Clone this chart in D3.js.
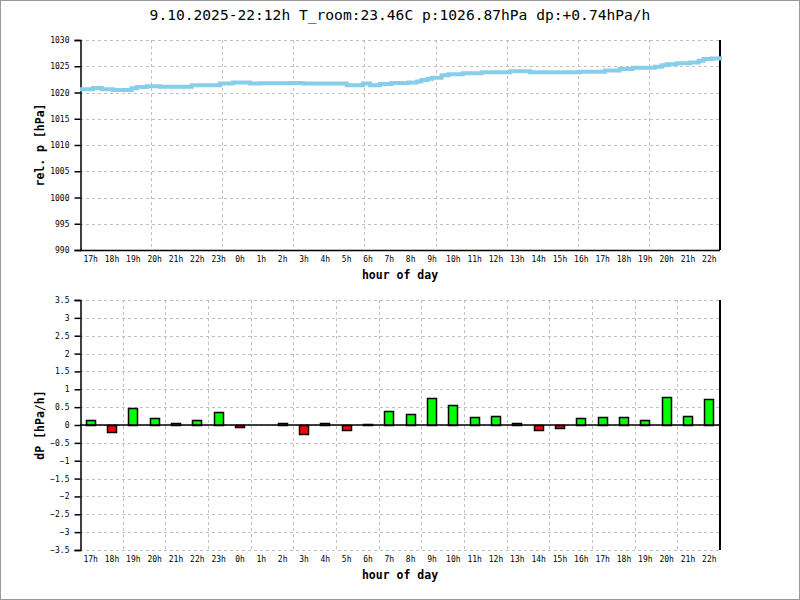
<!DOCTYPE html>
<html>
<head>
<meta charset="utf-8">
<script src="https://cdn.jsdelivr.net/npm/d3@7"></script>
<style>
  html, body { margin: 0; padding: 0; background: #fff; }
  svg { display: block; }
  text { font-family: "DejaVu Sans Mono", monospace; fill: #000; }
</style>
</head>
<body>
<svg id="chart" width="800" height="600"></svg>
<script>
// ---- data ----
const titleText = "9.10.2025-22:12h T_room:23.46C p:1026.87hPa dp:+0.74hPa/h";
const hourLabels = ["17h","18h","19h","20h","21h","22h","23h","0h","1h","2h","3h","4h","5h","6h","7h","8h","9h","10h","11h","12h","13h","14h","15h","16h","17h","18h","19h","20h","21h","22h"];
// pressure readings: hours since start of window, relative pressure (hPa)
const pTime = [0, 0.61, 1.02, 1.55, 2.42, 2.66, 3.13, 3.75, 5.24, 6.56, 7.17, 7.97, 8.44, 9.84, 10.45, 12.5, 13.27, 13.6, 14.06, 14.6, 15.4, 15.8, 16.0, 16.3, 16.5, 16.95, 17.27, 17.95, 18.83, 20.16, 21.1, 22.17, 23.44, 24.6, 25.3, 25.9, 26.56, 26.95, 27.27, 27.5, 27.97, 28.6, 29.0, 29.23, 29.6, 30];
const pValue = [1020.6, 1020.86, 1020.6, 1020.5, 1020.8, 1021.05, 1021.2, 1021.1, 1021.4, 1021.7, 1021.9, 1021.7, 1021.75, 1021.8, 1021.7, 1021.4, 1021.7, 1021.4, 1021.6, 1021.8, 1021.9, 1022.1, 1022.4, 1022.6, 1022.8, 1023.3, 1023.5, 1023.65, 1023.85, 1024.05, 1023.85, 1023.85, 1023.97, 1024.2, 1024.5, 1024.7, 1024.7, 1024.9, 1025.2, 1025.4, 1025.55, 1025.7, 1026.05, 1026.4, 1026.5, 1026.9];
// hourly pressure change (hPa/h)
const dpValue = [0.13, -0.2, 0.47, 0.19, 0.05, 0.13, 0.36, -0.06, 0, 0.05, -0.26, 0.05, -0.13, 0.03, 0.38, 0.31, 0.75, 0.55, 0.22, 0.24, 0.05, -0.13, -0.09, 0.19, 0.22, 0.22, 0.13, 0.78, 0.24, 0.72];
const pTicks = [990, 995, 1000, 1005, 1010, 1015, 1020, 1025, 1030];
const dpTicks = [-3.5, -3, -2.5, -2, -1.5, -1, -0.5, 0, 0.5, 1, 1.5, 2, 2.5, 3, 3.5];

// ---- layout ----
const svg = d3.select("#chart");
const L = 80, R = 720;
const top1 = 40, bot1 = 250;
const top2 = 300, bot2 = 550;
const gridColor = "#c0c0c0";

// page border
svg.append("rect").attr("x", 0.5).attr("y", 0.5).attr("width", 799).attr("height", 599)
  .attr("fill", "none").attr("stroke", "#999");

// title
svg.append("text").attr("x", 400).attr("y", 20).attr("text-anchor", "middle")
  .style("font-size", "14.6px").text(titleText);

const xBand = d3.scaleBand().domain(d3.range(hourLabels.length)).range([L, R])
  .paddingInner(0.53).paddingOuter(0.265);
const xTime = d3.scaleLinear().domain([0, 30]).range([L, R]);

function drawFrame(g, y, ticks, top, bot, nVGrid, fmt) {
  const vgrid = d3.scaleLinear().domain([0, nVGrid]).range([L, R]);
  // horizontal grid
  g.append("g").selectAll("line").data(ticks).join("line")
    .attr("x1", L).attr("x2", R)
    .attr("y1", d => Math.round(y(d)) + 0.5).attr("y2", d => Math.round(y(d)) + 0.5)
    .attr("stroke", gridColor).attr("stroke-dasharray", "3,3");
  // vertical grid
  g.append("g").selectAll("line").data(d3.range(1, nVGrid)).join("line")
    .attr("x1", d => Math.round(vgrid(d)) + 0.5).attr("x2", d => Math.round(vgrid(d)) + 0.5)
    .attr("y1", top).attr("y2", bot)
    .attr("stroke", gridColor).attr("stroke-dasharray", "3,3");
  // y axis
  const ax = g.append("g").attr("transform", `translate(${L + 0.5},0)`)
    .call(d3.axisLeft(y).tickValues(ticks).tickSize(6).tickPadding(5).tickFormat(fmt));
  ax.select(".domain").attr("stroke", "#000").attr("stroke-width", 1.5);
  ax.selectAll(".tick line").attr("stroke", "#000").attr("stroke-width", 1.5);
  ax.selectAll("text").style("font-size", "8px").style("font-family", "DejaVu Sans Mono");
  // right edge
  g.append("line").attr("x1", R).attr("x2", R).attr("y1", top).attr("y2", bot)
    .attr("stroke", "#000").attr("stroke-width", 2);
}

function drawXLabels(g, yPos, titleY) {
  const ax = g.append("g").attr("transform", `translate(0,${yPos})`)
    .call(d3.axisBottom(xBand).tickSize(0).tickPadding(6).tickFormat(i => hourLabels[i]));
  ax.select(".domain").remove();
  ax.selectAll("text").style("font-size", "8px").style("font-family", "DejaVu Sans Mono");
  g.append("text").attr("x", 400).attr("y", titleY).attr("text-anchor", "middle")
    .style("font-size", "11.5px").style("font-weight", "bold").text("hour of day");
}

// ---- top chart: pressure ----
const g1 = svg.append("g");
const y1 = d3.scaleLinear().domain([990, 1030]).range([bot1, top1]);
drawFrame(g1, y1, pTicks, top1, bot1, 9, d3.format("d"));
g1.append("line").attr("x1", L).attr("x2", R).attr("y1", bot1 + 0.5).attr("y2", bot1 + 0.5)
  .attr("stroke", "#000").attr("stroke-width", 1.5);
const pData = pTime.map((t, i) => [t, pValue[i]]);
g1.append("path").datum(pData)
  .attr("d", d3.line().x(d => xTime(d[0])).y(d => y1(d[1])).curve(d3.curveStepAfter))
  .attr("fill", "none").attr("stroke", "#87ceeb").attr("stroke-width", 4);
drawXLabels(g1, bot1, 279);
g1.append("text").attr("transform", `translate(44,${(top1 + bot1) / 2}) rotate(-90)`)
  .attr("text-anchor", "middle").style("font-size", "11.5px").style("font-weight", "bold")
  .text("rel. p [hPa]");

// ---- bottom chart: dp ----
const g2 = svg.append("g");
const y2 = d3.scaleLinear().domain([-3.5, 3.5]).range([bot2, top2]);
drawFrame(g2, y2, dpTicks, top2, bot2, 15, d => d3.format("")(d));
g2.append("g").selectAll("rect").data(dpValue.map((v, i) => [i, v])).join("rect")
  .attr("x", d => Math.round(xBand(d[0])) + 0.5)
  .attr("width", Math.round(xBand.bandwidth()) - 1)
  .attr("y", d => Math.round(y2(Math.max(0, d[1]))) + 0.5)
  .attr("height", d => Math.round(Math.abs(y2(d[1]) - y2(0))))
  .attr("fill", d => d[1] >= 0 ? "#00ff00" : "#ff0000")
  .attr("stroke", "#000").attr("stroke-width", 1.5);
g2.append("line").attr("x1", L).attr("x2", R).attr("y1", y2(0)).attr("y2", y2(0))
  .attr("stroke", "#000").attr("stroke-width", 1.5);
drawXLabels(g2, bot2, 579);
g2.append("text").attr("transform", `translate(44,${(top2 + bot2) / 2}) rotate(-90)`)
  .attr("text-anchor", "middle").style("font-size", "11.5px").style("font-weight", "bold")
  .text("dP [hPa/h]");
</script>
</body>
</html>
